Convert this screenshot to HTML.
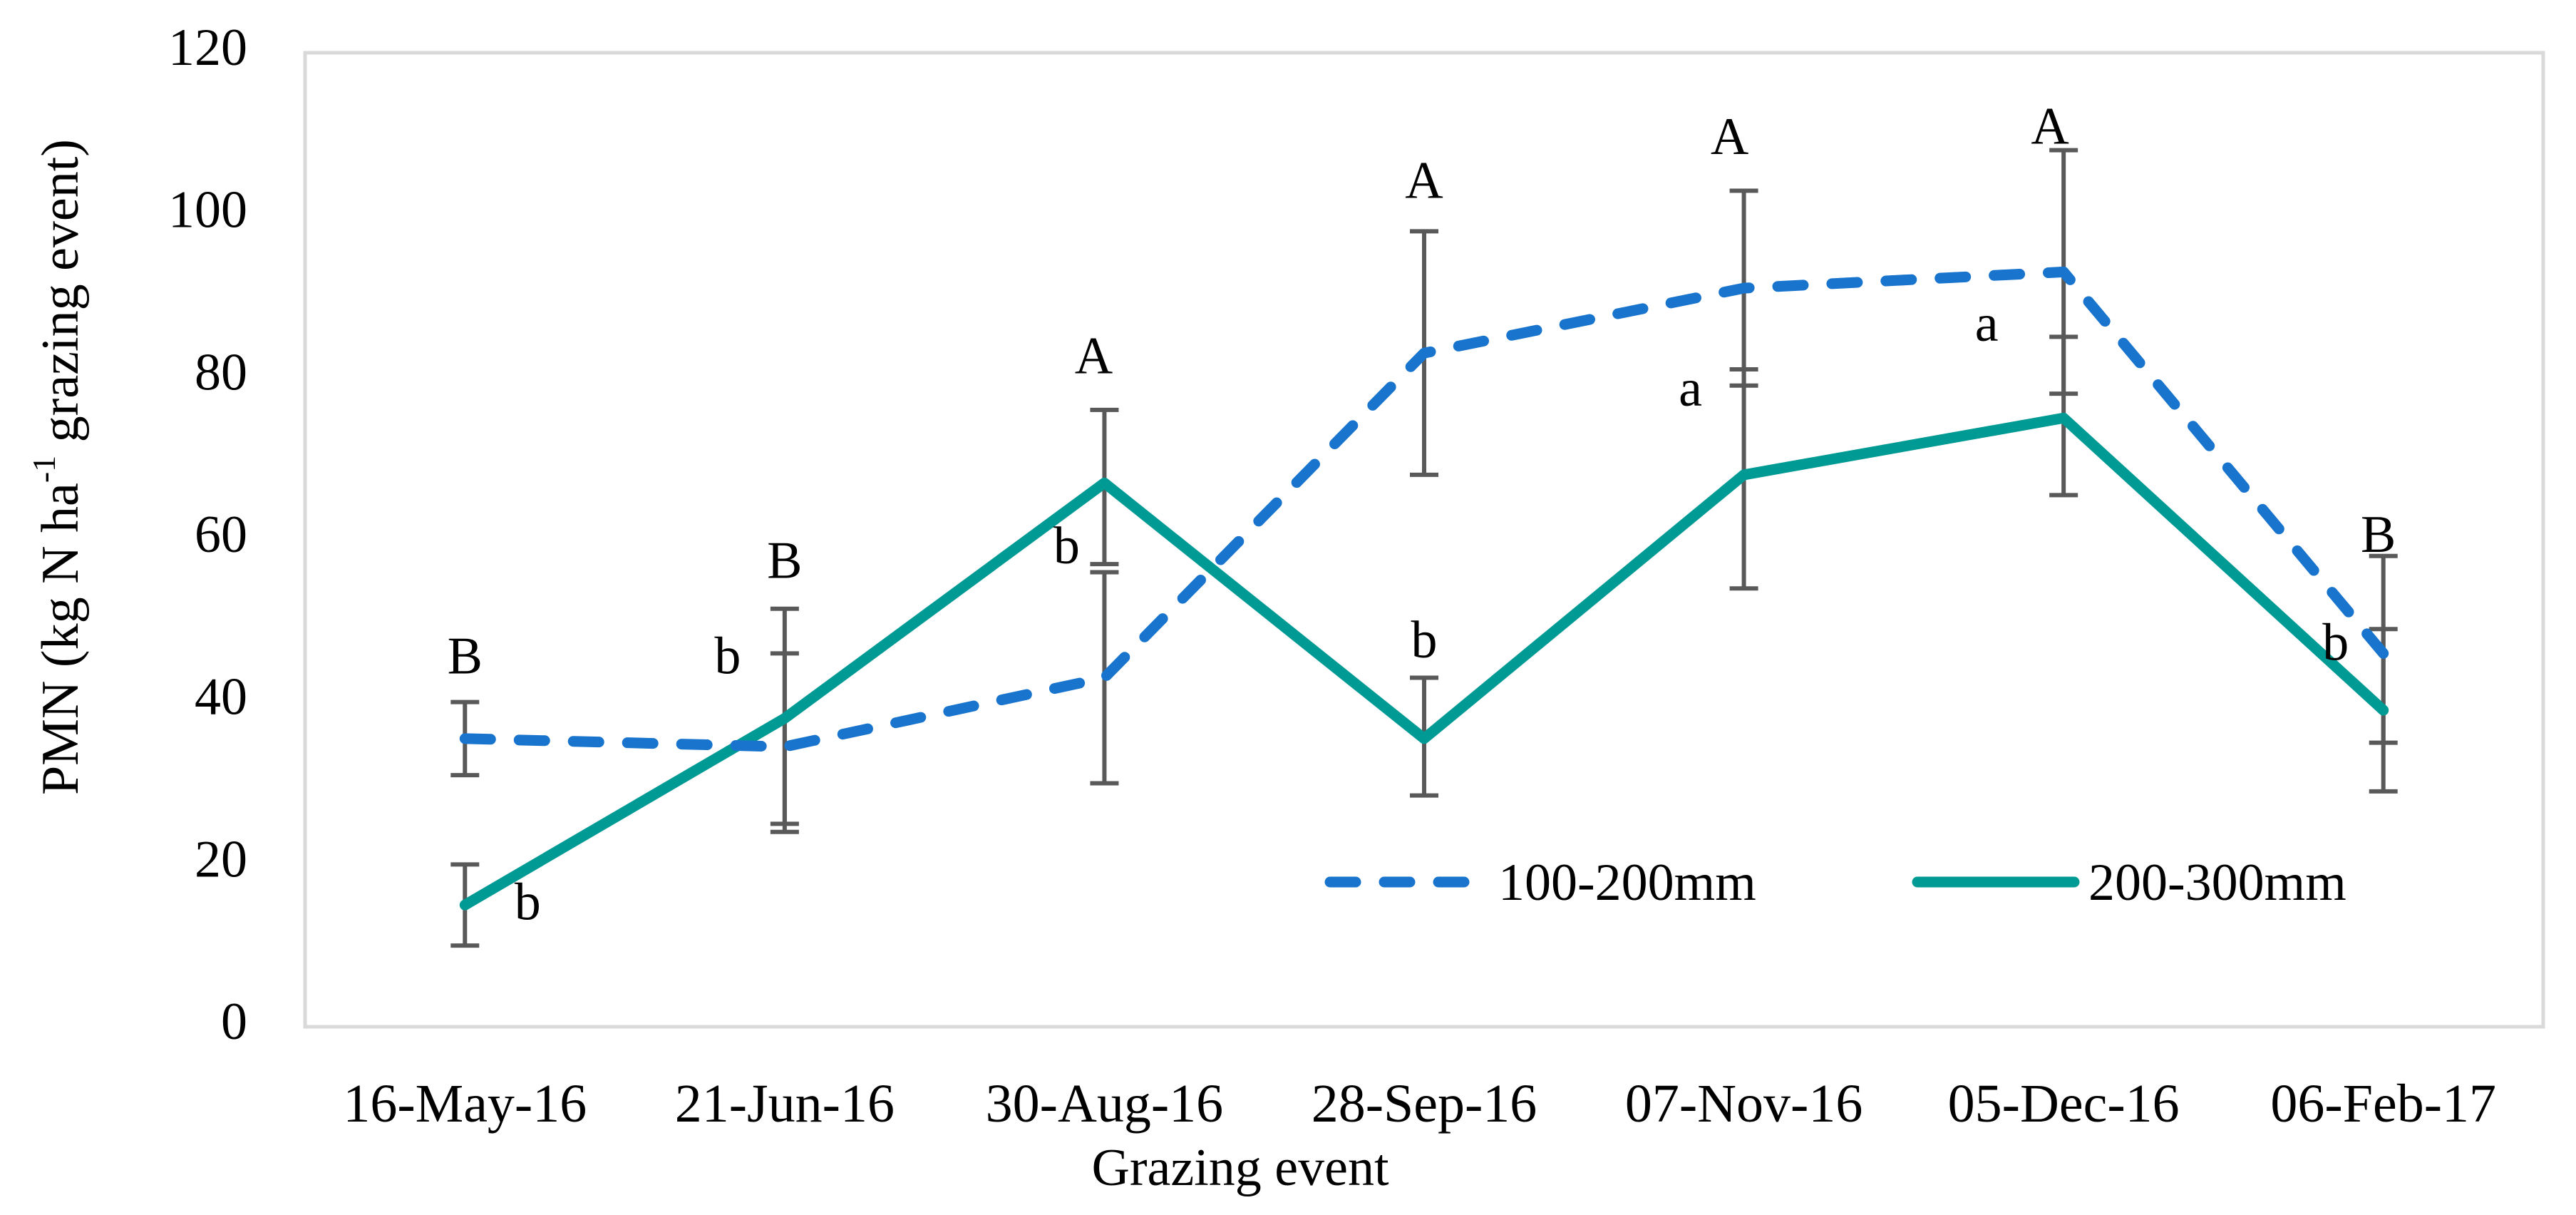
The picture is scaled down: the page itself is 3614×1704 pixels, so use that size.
<!DOCTYPE html>
<html><head><meta charset="utf-8"><style>
html,body{margin:0;padding:0;background:#fff;}
svg{display:block;font-family:"Liberation Serif",serif;}
</style></head><body>
<svg id="chart" width="3614" height="1704" viewBox="0 0 3614 1704">
<rect x="428" y="74" width="3140" height="1366" fill="#fff" stroke="#d9d9d9" stroke-width="5"/>
<g id="yticks"></g>
<g id="xticks"></g>
<g id="errs"></g>
<g id="lines"></g>
<g id="letters"></g>
<text x="92" y="655" transform="rotate(-90 92 655)" text-anchor="middle" font-size="74" dominant-baseline="middle">PMN (kg N ha<tspan font-size="46" dy="-26">-1</tspan><tspan dy="26"> grazing event)</tspan></text>
<text x="1740" y="1662" text-anchor="middle" font-size="74">Grazing event</text>
<g>
<line x1="1866" y1="1237" x2="2060" y2="1237" stroke="#1874cd" stroke-width="15" stroke-dasharray="36,40" stroke-linecap="round"/>
<text x="2102" y="1262" font-size="74">100-200mm</text>
<line x1="2690" y1="1237" x2="2910" y2="1237" stroke="#009a94" stroke-width="15" stroke-linecap="round"/>
<text x="2930" y="1262" font-size="74">200-300mm</text>
</g>
</svg>
<script>
const categories=["16-May-16","21-Jun-16","30-Aug-16","28-Sep-16","07-Nov-16","05-Dec-16","06-Feb-17"];
const blueVals=[35.5,34.5,43,83,91,93,46];
const blueLo=[31,24,30,68,79,78,35];
const blueHi=[40,46,56,98,103,108,58];
const greenVals=[15,38,67,35.5,68,75,39];
const greenLo=[10,25,57,28.5,54,65.5,29];
const greenHi=[20,51.5,76,43,81,85,49];
const upperLetters=["B","B","A","A","A","A","B"];
const upperPos=[45,56.8,82,103.6,109,110.3,60];
const upperOff=[0,0,-15,0,-20,-19,-7];
const lowerLetters=["b","b","b","b","a","a","b"];
const lowerPos=[14.7,45,58.6,47,78,86,46.7];
const lowerOff=[88,-80,-53,0,-75,-108,-67];
const yTicks=[0,20,40,60,80,100,120];
const NS="http://www.w3.org/2000/svg";
const L=428,R=3568,T=74,B=1440;
const xs=i=>L+(R-L)/categories.length*(i+0.5);
const ys=v=>B-(B-T)*v/120;
function mk(tag,attrs,parent,txt){const e=document.createElementNS(NS,tag);for(const k in attrs)e.setAttribute(k,attrs[k]);if(txt!==undefined)e.textContent=txt;parent.appendChild(e);return e;}
const gy=document.getElementById('yticks'),gx=document.getElementById('xticks'),ge=document.getElementById('errs'),gl=document.getElementById('lines'),gt=document.getElementById('letters');
yTicks.forEach(v=>{const t=mk('text',{x:347,y:ys(v),'text-anchor':'end','dominant-baseline':'middle','font-size':74},gy,v);

});
categories.forEach((c,i)=>{const t=mk('text',{x:xs(i),y:1573,'text-anchor':'middle','font-size':76},gx,c);

});
function err(i,lo,hi){const x=xs(i);const g=mk('g',{stroke:'#595959','stroke-width':6},ge);


mk('line',{x1:x,x2:x,y1:ys(lo),y2:ys(hi)},g);mk('line',{x1:x-20,x2:x+20,y1:ys(lo),y2:ys(lo)},g);mk('line',{x1:x-20,x2:x+20,y1:ys(hi),y2:ys(hi)},g);}
categories.forEach((c,i)=>{err(i,blueLo[i],blueHi[i]);err(i,greenLo[i],greenHi[i]);});
const gp=mk('polyline',{points:greenVals.map((v,i)=>xs(i)+','+ys(v)).join(' '),fill:'none',stroke:'#009a94','stroke-width':15,'stroke-linejoin':'round','stroke-linecap':'round'},gl);


const bp=mk('polyline',{points:blueVals.map((v,i)=>xs(i)+','+ys(v)).join(' '),fill:'none',stroke:'#1874cd','stroke-width':15,'stroke-dasharray':'36,40','stroke-linejoin':'round','stroke-linecap':'round'},gl);


categories.forEach((c,i)=>{
const a=mk('text',{x:xs(i)+upperOff[i],y:ys(upperPos[i]),'text-anchor':'middle','dominant-baseline':'middle','font-size':74},gt,upperLetters[i]);


const b=mk('text',{x:xs(i)+lowerOff[i],y:ys(lowerPos[i]),'text-anchor':'middle','dominant-baseline':'middle','font-size':74},gt,lowerLetters[i]);

});
</script>
</body></html>
